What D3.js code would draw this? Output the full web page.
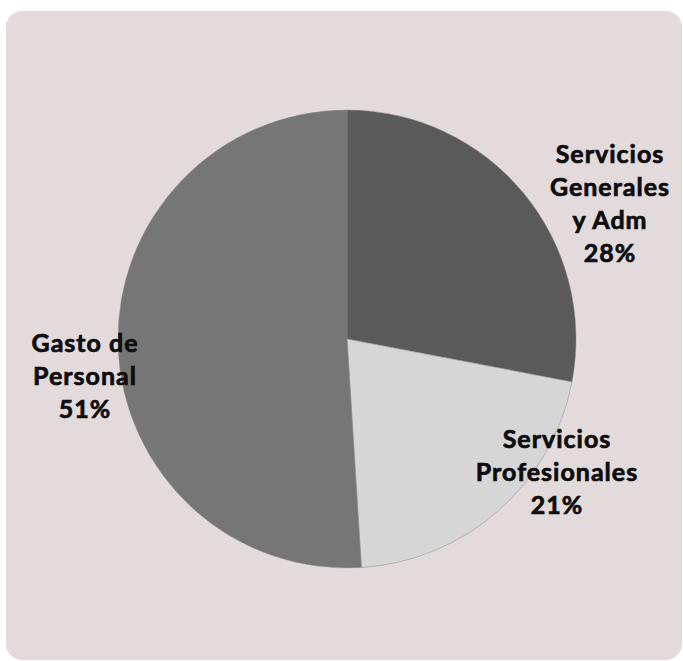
<!DOCTYPE html>
<html><head><meta charset="utf-8">
<script src="https://cdn.jsdelivr.net/npm/d3@7"></script>
<style>html,body{margin:0;padding:0;background:#fff;}svg{display:block;}</style>
</head><body>
<svg id="c" width="683" height="661"></svg>
<script>
const categories = ["Servicios Generales y Adm", "Servicios Profesionales", "Gasto de Personal"];
const values = [28, 21, 51];
const labelLines = [["Servicios", "Generales", "y Adm", "28%"], ["Servicios", "Profesionales", "21%"], ["Gasto de", "Personal", "51%"]];
const colors = ["#5a5a5a", "#d6d6d6", "#767676"];
// label anchor (center x, first baseline y)
const labelPos = [[610, 163], [557, 448], [85, 352]];

const svg = d3.select("#c");
svg.append("rect").attr("x", 6).attr("y", 11).attr("width", 676).attr("height", 649)
  .attr("rx", 16).attr("fill", "#e3dadb");

const cx = 347, cy = 339, r = 229;
const pie = d3.pie().sort(null).value(d => d)(values);
const arc = d3.arc().innerRadius(0).outerRadius(r);
const g = svg.append("g").attr("transform", `translate(${cx},${cy})`);
g.selectAll("path").data(pie).join("path")
  .attr("d", arc).attr("fill", (d, i) => colors[i])
  .attr("stroke", "#8a8a8a").attr("stroke-width", 0.5);

labelLines.forEach((lines, i) => {
  const t = svg.append("text").attr("text-anchor", "middle")
    .attr("font-family", "Lato, 'Open Sans', sans-serif").attr("font-weight", 700)
    .attr("font-size", 25).attr("letter-spacing", 1).attr("fill", "#0d0d0d")
    .attr("stroke", "#0d0d0d").attr("stroke-width", 0.7);
  lines.forEach((ln, k) => {
    t.append("tspan").attr("x", labelPos[i][0]).attr("y", labelPos[i][1] + k * 33).text(ln);
  });
});
</script>
</body></html>
